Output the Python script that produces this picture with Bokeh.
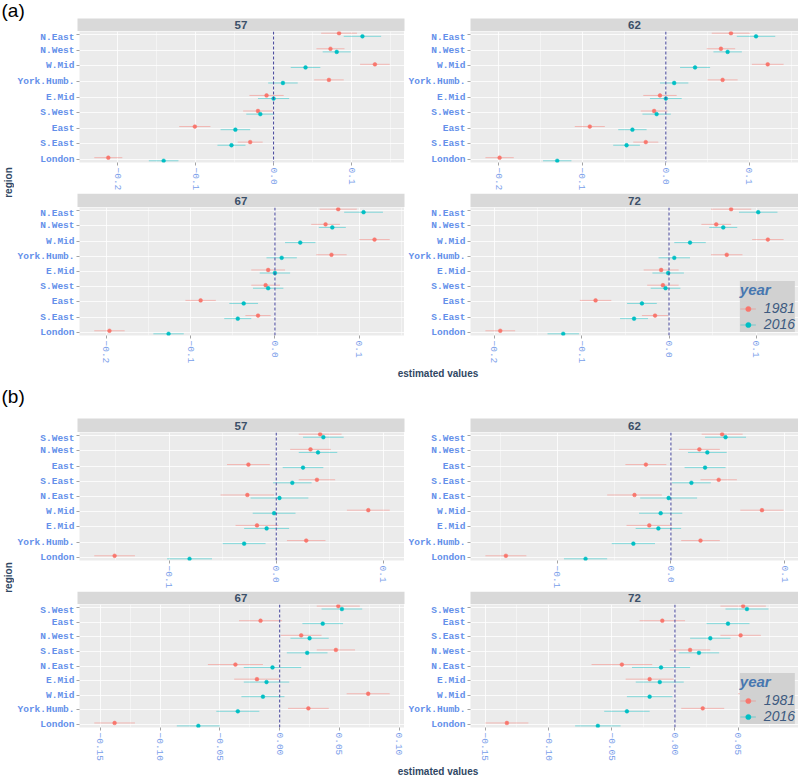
import math
from bokeh.plotting import figure
from bokeh.layouts import column, row
from bokeh.models import Range1d, FixedTicker, Span, Legend, LegendItem, ColumnDataSource
from bokeh.core.properties import value
from bokeh.embed import file_html
from bokeh.resources import INLINE

# ---------------- data ----------------
YEARS = ["1981", "2016"]

# (a) panels: regions from top to bottom
A_REGIONS = ["N.East", "N.West", "W.Mid", "York.Humb.", "E.Mid", "S.West", "East", "S.East", "London"]

a57_1981 = [0.084, 0.073, 0.130, 0.071, -0.009, -0.020, -0.101, -0.030, -0.212]
a57_1981_err = [0.023, 0.018, 0.019, 0.019, 0.022, 0.019, 0.020, 0.016, 0.018]
a57_2016 = [0.114, 0.081, 0.041, 0.012, 0.000, -0.017, -0.049, -0.054, -0.141]
a57_2016_err = [0.024, 0.018, 0.019, 0.019, 0.020, 0.018, 0.019, 0.018, 0.019]

a62_1981 = [0.078, 0.066, 0.122, 0.068, -0.007, -0.014, -0.091, -0.024, -0.199]
a62_1981_err = [0.023, 0.017, 0.019, 0.018, 0.020, 0.016, 0.018, 0.015, 0.017]
a62_2016 = [0.108, 0.074, 0.035, 0.010, 0.000, -0.011, -0.040, -0.047, -0.130]
a62_2016_err = [0.023, 0.017, 0.018, 0.017, 0.019, 0.017, 0.017, 0.016, 0.017]

a67_1981 = [0.075, 0.060, 0.118, 0.067, -0.008, -0.011, -0.088, -0.020, -0.196]
a67_1981_err = [0.022, 0.017, 0.018, 0.018, 0.020, 0.017, 0.018, 0.015, 0.018]
a67_2016 = [0.105, 0.068, 0.030, 0.008, 0.000, -0.008, -0.037, -0.044, -0.126]
a67_2016_err = [0.023, 0.016, 0.018, 0.018, 0.018, 0.018, 0.017, 0.016, 0.018]

a72_1981 = [0.071, 0.054, 0.113, 0.066, -0.009, -0.007, -0.084, -0.016, -0.193]
a72_1981_err = [0.023, 0.017, 0.018, 0.018, 0.020, 0.018, 0.018, 0.015, 0.017]
a72_2016 = [0.102, 0.062, 0.024, 0.006, -0.001, -0.004, -0.031, -0.040, -0.121]
a72_2016_err = [0.022, 0.016, 0.018, 0.018, 0.018, 0.017, 0.017, 0.016, 0.018]

A_TICKS = [-0.2, -0.1, 0.0, 0.1]
A_TICK_LABELS = ["\u22120.2", "\u22120.1", "0.0", "0.1"]

# (b) panels
B57_REGIONS = ["S.West", "N.West", "East", "S.East", "N.East", "W.Mid", "E.Mid", "York.Humb.", "London"]
b57_1981 = [0.041, 0.032, -0.026, 0.038, -0.027, 0.086, -0.018, 0.028, -0.151]
b57_1981_err = [0.020, 0.019, 0.020, 0.017, 0.025, 0.020, 0.020, 0.018, 0.019]
b57_2016 = [0.044, 0.039, 0.025, 0.015, 0.003, -0.002, -0.009, -0.030, -0.081]
b57_2016_err = [0.019, 0.018, 0.019, 0.018, 0.027, 0.020, 0.021, 0.020, 0.021]

B62_REGIONS = ["S.West", "N.West", "East", "S.East", "N.East", "W.Mid", "E.Mid", "York.Humb.", "London"]
b62_1981 = [0.045, 0.025, -0.022, 0.042, -0.032, 0.080, -0.019, 0.026, -0.145]
b62_1981_err = [0.018, 0.018, 0.018, 0.016, 0.024, 0.019, 0.020, 0.017, 0.018]
b62_2016 = [0.048, 0.032, 0.030, 0.018, -0.002, -0.009, -0.011, -0.033, -0.075]
b62_2016_err = [0.018, 0.017, 0.018, 0.017, 0.025, 0.019, 0.020, 0.019, 0.019]

B67_REGIONS = ["S.West", "East", "N.West", "S.East", "N.East", "E.Mid", "W.Mid", "York.Humb.", "London"]
b67_1981 = [0.049, -0.016, 0.018, 0.047, -0.037, -0.019, 0.074, 0.024, -0.138]
b67_1981_err = [0.018, 0.018, 0.017, 0.016, 0.023, 0.019, 0.018, 0.017, 0.017]
b67_2016 = [0.052, 0.036, 0.025, 0.023, -0.006, -0.011, -0.014, -0.035, -0.068]
b67_2016_err = [0.017, 0.017, 0.016, 0.017, 0.024, 0.019, 0.018, 0.018, 0.018]

B72_REGIONS = ["S.West", "East", "S.East", "N.West", "N.East", "E.Mid", "W.Mid", "York.Humb.", "London"]
b72_1981 = [0.054, -0.010, 0.052, 0.012, -0.042, -0.020, 0.068, 0.022, -0.133]
b72_1981_err = [0.018, 0.018, 0.016, 0.016, 0.024, 0.019, 0.018, 0.017, 0.017]
b72_2016 = [0.057, 0.042, 0.028, 0.019, -0.011, -0.012, -0.020, -0.038, -0.061]
b72_2016_err = [0.017, 0.017, 0.016, 0.016, 0.023, 0.019, 0.018, 0.018, 0.018]

B1_TICKS = [-0.1, 0.0, 0.1]
B1_TICK_LABELS = ["\u22120.1", "0.0", "0.1"]
B2_TICKS = [-0.15, -0.10, -0.05, 0.0, 0.05, 0.10]
B2_TICK_LABELS = ["\u22120.15", "\u22120.10", "\u22120.05", "0.00", "0.05", "0.10"]

# ---------------- style ----------------
RED = "#F8766D"
TEAL = "#00BFC4"
PANEL_BG = "#EBEBEB"
STRIP_BG = "#D9D9D9"
YLAB_COLOR = "#6490EA"
XLAB_COLOR = "#7A9EEA"
TITLE_COLOR = "#2F4763"
STRIP_TEXT = "#3B4F68"
SANS = "Liberation Sans"
MONO = "Liberation Mono"


def facet(regions, e81, s81, e16, s16, ticks, tick_labels, width, height, bl, bb, legend=False):
    lows = [e - s for e, s in zip(e81, s81)] + [e - s for e, s in zip(e16, s16)]
    highs = [e + s for e, s in zip(e81, s81)] + [e + s for e, s in zip(e16, s16)]
    lo, hi = min(lows), max(highs)
    pad = 0.05 * (hi - lo)
    n = len(regions)
    ypos = [n - i for i in range(n)]
    p = figure(width=width, height=height, x_range=Range1d(lo - pad, hi + pad),
               y_range=Range1d(0.79, n + 0.21), output_backend="svg", toolbar_location=None,
               min_border_left=bl, min_border_right=0, min_border_top=0, min_border_bottom=bb)
    p.background_fill_color = PANEL_BG
    p.border_fill_color = "white"
    p.outline_line_color = None

    xt_minor = [(ticks[i] + ticks[i + 1]) / 2 for i in range(len(ticks) - 1)]
    step = ticks[1] - ticks[0]
    xt_minor = [ticks[0] - step / 2] + xt_minor + [ticks[-1] + step / 2]
    xt = FixedTicker(ticks=ticks, minor_ticks=xt_minor)
    yt = FixedTicker(ticks=ypos, minor_ticks=[])
    p.xaxis.ticker = xt
    p.xgrid.ticker = xt
    p.yaxis.ticker = yt
    p.ygrid.ticker = yt
    p.xaxis.major_label_overrides = {t: l for t, l in zip(ticks, tick_labels)}
    p.yaxis.major_label_overrides = {y: r for y, r in zip(ypos, regions)}

    for ax in (p.xaxis, p.yaxis):
        ax.axis_line_color = None
        ax.major_tick_line_color = "#A3A3A3"
        ax.major_tick_out = 3
        ax.major_tick_in = 0
        ax.minor_tick_line_color = None
    p.xaxis.major_label_orientation = -math.pi / 2
    p.xaxis.major_label_standoff = 1
    p.xaxis.major_label_text_font = MONO
    p.xaxis.major_label_text_font_size = "9.5px"
    p.xaxis.major_label_text_color = XLAB_COLOR
    p.yaxis.major_label_standoff = 2
    p.yaxis.major_label_text_font = MONO
    p.yaxis.major_label_text_font_style = "bold"
    p.yaxis.major_label_text_font_size = "9.5px"
    p.yaxis.major_label_text_color = YLAB_COLOR

    p.xgrid.grid_line_color = "white"
    p.xgrid.grid_line_alpha = 0.8
    p.xgrid.minor_grid_line_color = "white"
    p.xgrid.minor_grid_line_alpha = 0.45
    p.ygrid.grid_line_color = "white"
    p.ygrid.grid_line_alpha = 0.8

    p.add_layout(Span(location=0, dimension="height", line_color="#44449A",
                      line_dash="3 2", line_width=1))

    rends = {}
    for yr, est, err, col, off in (("1981", e81, s81, RED, 0.1), ("2016", e16, s16, TEAL, -0.1)):
        src = ColumnDataSource(dict(
            y=[y + off for y in ypos], est=est,
            lo=[e - s for e, s in zip(est, err)], hi=[e + s for e, s in zip(est, err)]))
        seg = p.segment(x0="lo", x1="hi", y0="y", y1="y", source=src,
                        line_color=col, line_alpha=0.45, line_width=1)
        pt = p.scatter(x="est", y="y", source=src, size=3.8, fill_color=col, line_color=col,
                       line_width=0.5)
        rends[yr] = [seg, pt]

    if legend:
        lg = Legend(items=[LegendItem(label=yr, renderers=rends[yr]) for yr in YEARS],
                    location="bottom_right", title="year")
        lg.margin = 3
        lg.padding = 3
        lg.spacing = 0
        lg.background_fill_color = "#D1D1D1"
        lg.background_fill_alpha = 1.0
        lg.border_line_color = None
        lg.title_text_font = SANS
        lg.title_text_font_style = "bold italic"
        lg.title_text_font_size = "15px"
        lg.title_text_color = "#4677B0"
        lg.title_standoff = 2
        lg.label_text_font = SANS
        lg.label_text_font_style = "italic"
        lg.label_text_font_size = "14px"
        lg.label_text_color = "#3D5A80"
        lg.label_height = 13
        lg.glyph_height = 13
        lg.glyph_width = 16
        lg.label_standoff = 8
        p.add_layout(lg)
    return p


def decor(w, h):
    p = figure(width=w, height=h, x_range=Range1d(0, w), y_range=Range1d(0, h),
               output_backend="svg", toolbar_location=None, x_axis_type=None, y_axis_type=None,
               min_border=0, min_border_left=0, min_border_right=0, min_border_top=0,
               min_border_bottom=0)
    p.outline_line_color = None
    p.background_fill_color = "white"
    p.border_fill_color = "white"
    p.xgrid.visible = False
    p.ygrid.visible = False
    return p


def strips(p, lefts, rights, labels, h):
    p.quad(left=lefts, right=rights, bottom=0, top=h, fill_color=STRIP_BG, line_color=None)
    p.text(x=[(l + r) / 2 for l, r in zip(lefts, rights)], y=[h / 2] * len(labels), text=labels,
           text_font=value(SANS), text_font_style="bold", text_font_size="11.5px",
           text_color=STRIP_TEXT, text_align="center", text_baseline="middle")


def label_text(p, x, y, txt, size, bold=False, angle=0.0, align="center", baseline="middle",
               color=TITLE_COLOR):
    p.text(x=[x], y=[y], text=[txt], text_font=value(SANS),
           text_font_style="bold" if bold else "normal", text_font_size=size,
           text_color=color, text_align=align, text_baseline=baseline, angle=angle)


# ---------------- block (a) ----------------
topA = decor(798, 31)
label_text(topA, 1, 21, "(a)", "19px", align="left", color="black")
strips(topA, [77, 470], [404, 798], ["57", "62"], 13)

fa57 = facet(A_REGIONS, a57_1981, a57_1981_err, a57_2016, a57_2016_err, A_TICKS, A_TICK_LABELS, 390, 162, 63, 29)
fa62 = facet(A_REGIONS, a62_1981, a62_1981_err, a62_2016, a62_2016_err, A_TICKS, A_TICK_LABELS, 394, 162, 66, 29)
midA = decor(784, 14)
strips(midA, [63, 456], [390, 784], ["67", "72"], 14)
fa67 = facet(A_REGIONS, a67_1981, a67_1981_err, a67_2016, a67_2016_err, A_TICKS, A_TICK_LABELS, 390, 159, 63, 28)
fa72 = facet(A_REGIONS, a72_1981, a72_1981_err, a72_2016, a72_2016_err, A_TICKS, A_TICK_LABELS, 394, 159, 66, 28, legend=True)

regA = decor(14, 335)
label_text(regA, 8, 335 - (182 - 31), "region", "10px", bold=True, angle=math.pi / 2)
botA = decor(798, 14)
label_text(botA, 437.5, 7, "estimated values", "10px", bold=True)

# ---------------- block (b) ----------------
topB = decor(798, 52)
label_text(topB, 1, 52 - 16, "(b)", "19px", align="left", color="black")
strips(topB, [77, 470], [404, 798], ["57", "62"], 14)

fb57 = facet(B57_REGIONS, b57_1981, b57_1981_err, b57_2016, b57_2016_err, B1_TICKS, B1_TICK_LABELS, 390, 159, 63, 29)
fb62 = facet(B62_REGIONS, b62_1981, b62_1981_err, b62_2016, b62_2016_err, B1_TICKS, B1_TICK_LABELS, 394, 159, 66, 29)
midB = decor(784, 13)
strips(midB, [63, 456], [390, 784], ["67", "72"], 13)
fb67 = facet(B67_REGIONS, b67_1981, b67_1981_err, b67_2016, b67_2016_err, B2_TICKS, B2_TICK_LABELS, 390, 160, 63, 31)
fb72 = facet(B72_REGIONS, b72_1981, b72_1981_err, b72_2016, b72_2016_err, B2_TICKS[:-1], B2_TICK_LABELS[:-1], 394, 160, 66, 31, legend=True)

regB = decor(14, 332)
label_text(regB, 8, 332 - (577 - 432), "region", "10px", bold=True, angle=math.pi / 2)
botB = decor(798, 12)
label_text(botB, 437.5, 5, "estimated values", "10px", bold=True)

layout = column(
    topA,
    row(regA, column(row(fa57, fa62), midA, row(fa67, fa72))),
    botA,
    topB,
    row(regB, column(row(fb57, fb62), midB, row(fb67, fb72))),
    botB,
)

open("out.html", "w").write(file_html(layout, INLINE))
